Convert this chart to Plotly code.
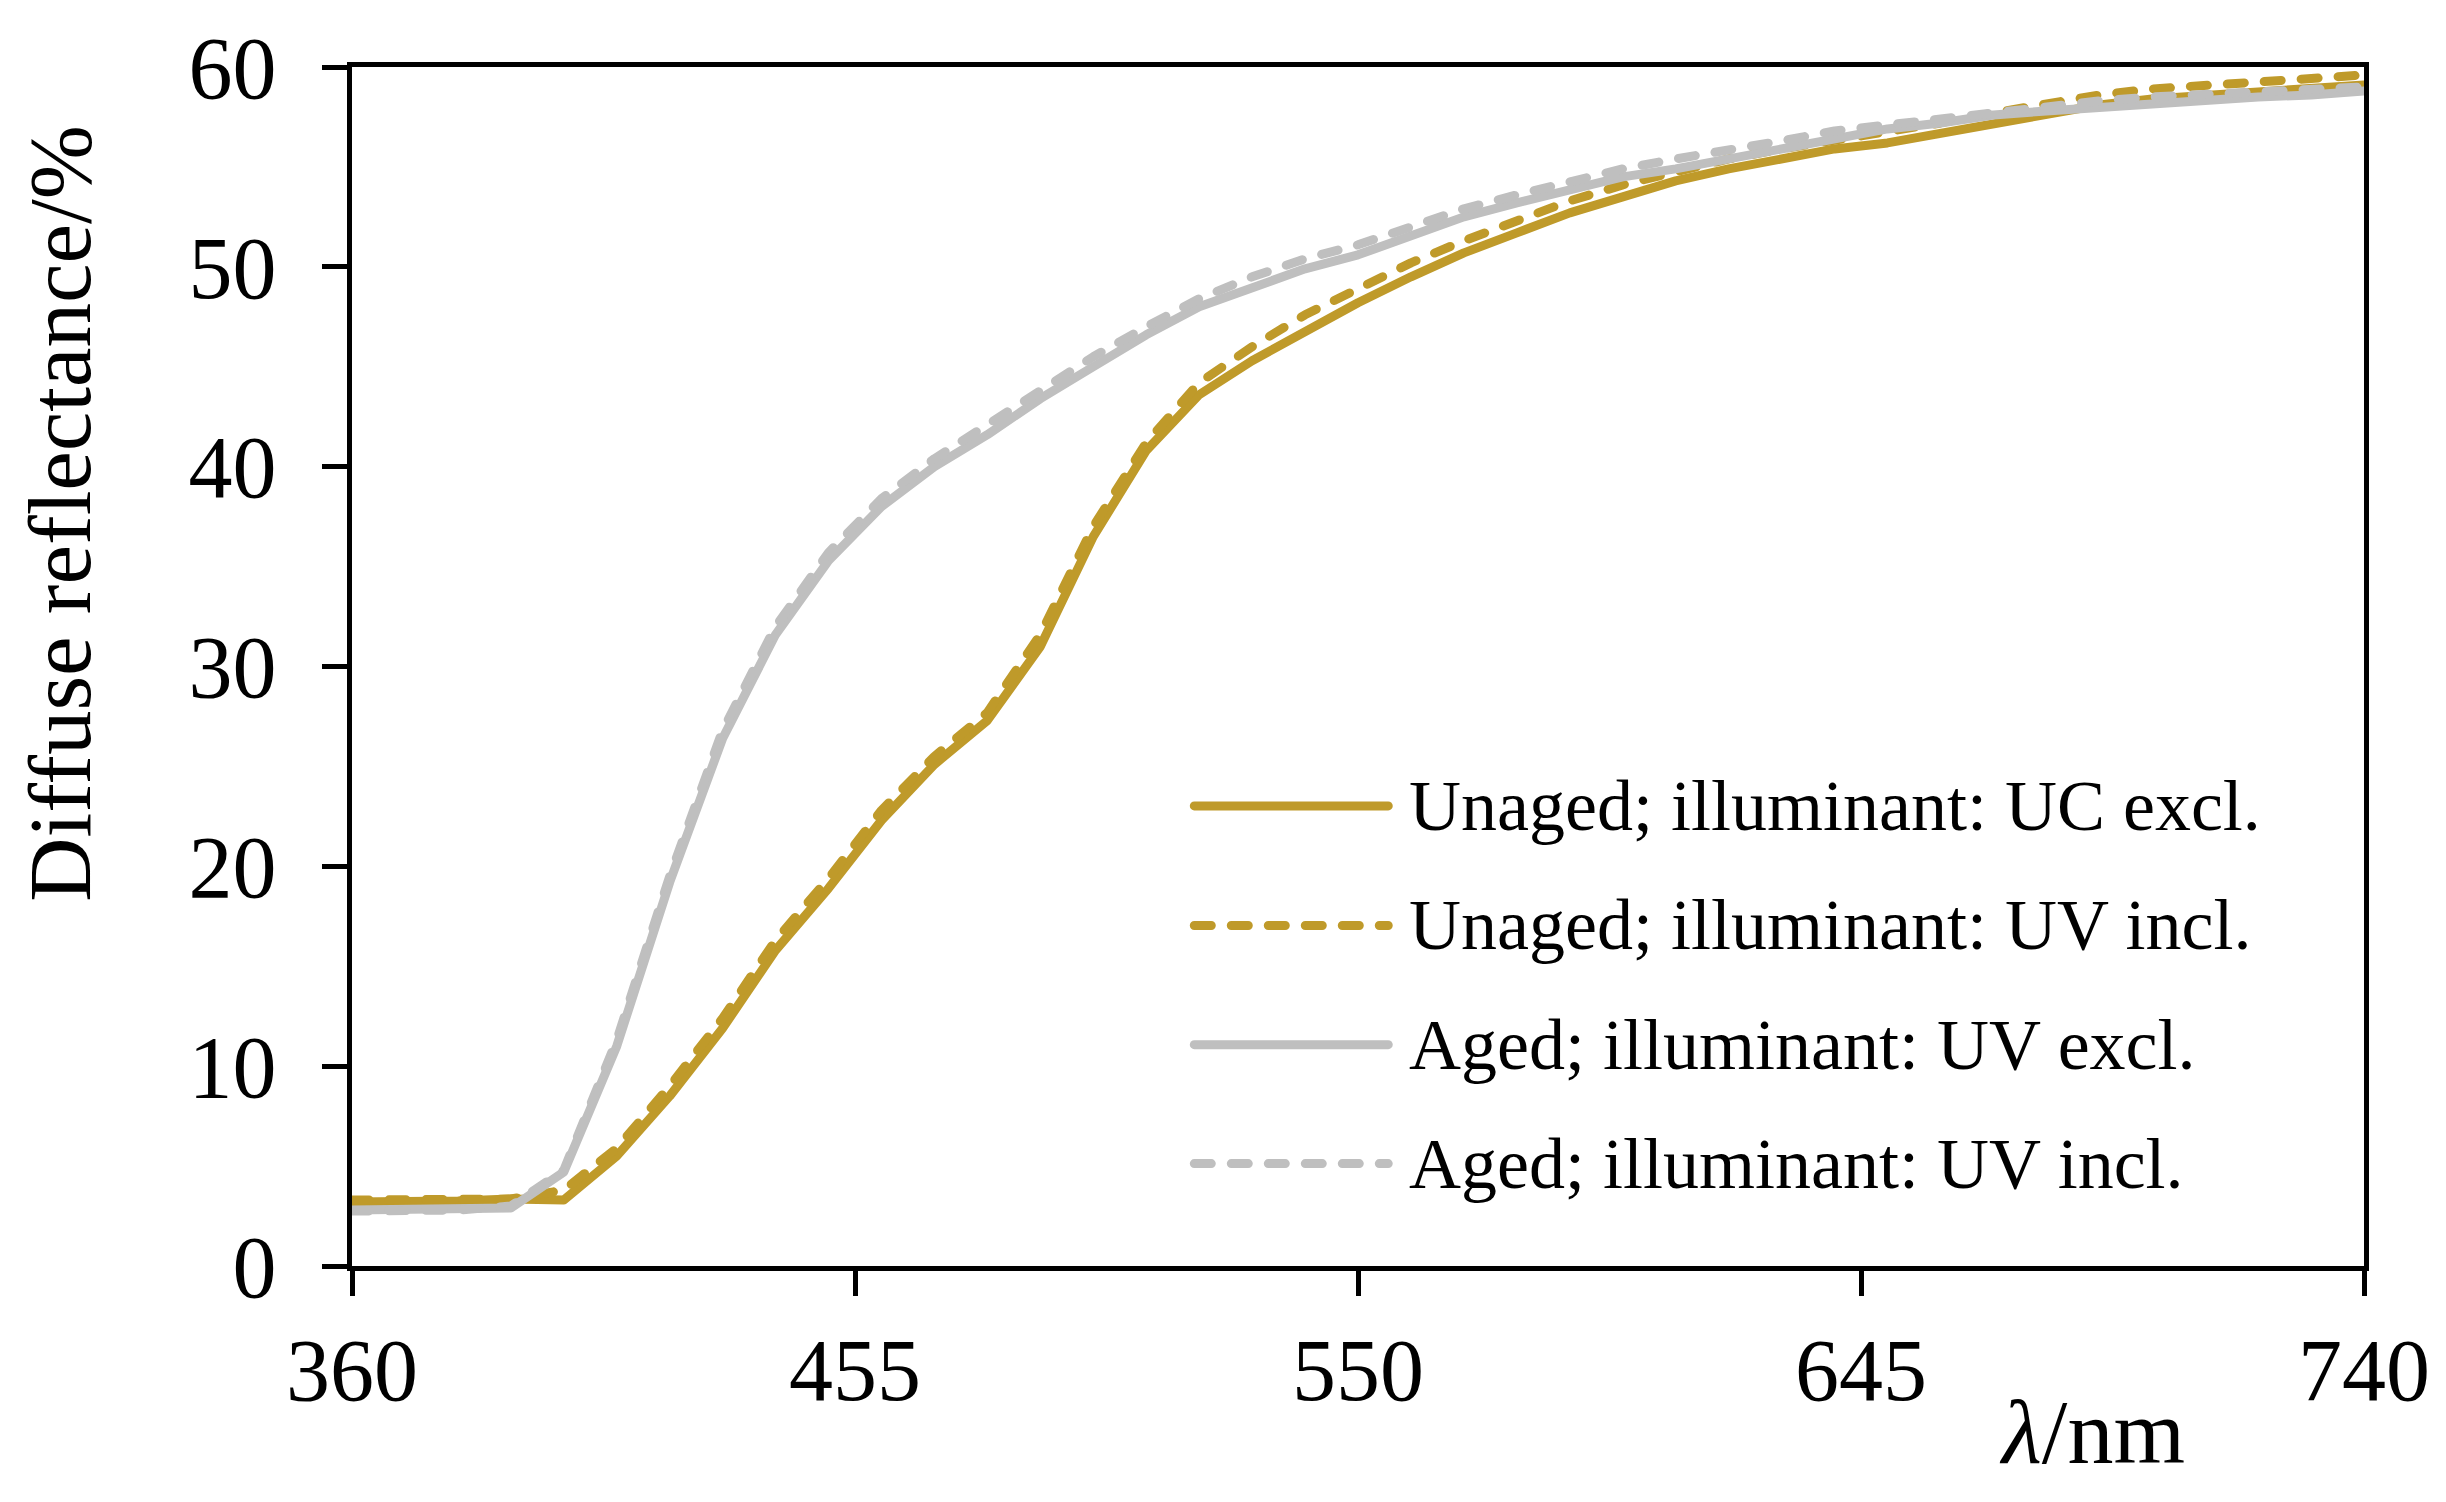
import plotly.graph_objects as go

# ---------------- data ----------------
wavelength = [360, 370, 380, 390, 400, 410, 420, 430, 440, 450, 460, 470, 480, 490,
              500, 510, 520, 530, 540, 550, 560, 570, 580, 590, 600, 610, 620, 630,
              640, 650, 660, 670, 680, 690, 700, 710, 720, 730, 740]

unaged_uv_excl = [3.2, 3.2, 3.25, 3.35, 3.3, 5.5, 8.5, 11.9, 15.8, 18.9, 22.3, 25.1, 27.3, 31.0,
                  36.5, 40.8, 43.6, 45.3, 46.8, 48.2, 49.5, 50.7, 51.7, 52.7, 53.5, 54.3, 54.9, 55.4,
                  55.9, 56.2, 56.7, 57.2, 57.7, 58.1, 58.4, 58.6, 58.8, 59.0, 59.1]

unaged_uv_incl = [3.3, 3.3, 3.3, 3.35, 3.8, 5.9, 9.0, 12.4, 16.3, 19.4, 22.8, 25.5, 27.7, 31.6,
                  37.0, 41.2, 44.2, 46.0, 47.6, 48.9, 50.2, 51.3, 52.3, 53.3, 54.1, 54.8, 55.4, 55.9,
                  56.3, 56.7, 57.2, 57.7, 58.2, 58.6, 58.9, 59.1, 59.3, 59.5, 59.6]

aged_uv_excl = [2.8, 2.8, 2.8, 2.9, 4.7, 11.0, 19.2, 26.4, 31.6, 35.3, 38.0, 40.0, 41.6, 43.4,
                45.0, 46.6, 48.0, 49.0, 49.9, 50.6, 51.6, 52.5, 53.2, 53.8, 54.5, 54.9, 55.4, 56.0,
                56.5, 56.9, 57.2, 57.6, 57.8, 58.0, 58.2, 58.3, 58.5, 58.6, 58.8]

aged_uv_incl = [2.75, 2.75, 2.8, 3.0, 4.8, 11.3, 19.5, 26.8, 32.0, 35.7, 38.4, 40.4, 42.1, 43.8,
                45.5, 47.0, 48.4, 49.5, 50.4, 51.1, 52.0, 52.9, 53.6, 54.3, 54.9, 55.4, 55.8, 56.3,
                56.8, 57.1, 57.5, 57.8, 58.1, 58.3, 58.5, 58.6, 58.8, 58.9, 59.0]

series_names = ["Unaged; illuminant: UC excl.", "Unaged; illuminant: UV incl.",
                "Aged; illuminant: UV excl.", "Aged; illuminant: UV incl."]

x_ticks = [360, 455, 550, 645, 740]
y_ticks = [0, 10, 20, 30, 40, 50, 60]

# ---------------- styling ----------------
GOLD = "#BF9A2A"
GRAY = "#BFBFBF"
LW = 9
DASH = "17px,20px"
FONT = "Liberation Serif, Times New Roman, serif"

W, H = 2446, 1502
ML, MR, MT, MB = 351.5, 82, 66.5, 235.5
PW = W - ML - MR
PH = H - MT - MB


def px(X):
    return (X - ML) / PW


def py(Y):
    return (H - MB - Y) / PH


styles = [(GOLD, "solid"), (GOLD, DASH), (GRAY, "solid"), (GRAY, DASH)]
values = [unaged_uv_excl, unaged_uv_incl, aged_uv_excl, aged_uv_incl]

fig = go.Figure()
for name, vals, (col, dash) in zip(series_names, values, styles):
    fig.add_trace(go.Scatter(x=wavelength, y=vals, mode="lines", name=name,
                             line=dict(color=col, width=LW, dash=dash),
                             showlegend=False, hoverinfo="skip"))

axis_common = dict(showline=True, linecolor="black", linewidth=5, mirror=True,
                   ticks="outside", ticklen=25, tickwidth=5, tickcolor="black",
                   showgrid=False, zeroline=False,
                   tickfont=dict(family=FONT, size=88, color="black"))

fig.update_xaxes(range=[360, 740], tickmode="array", tickvals=x_ticks,
                 ticktext=[str(v) for v in x_ticks], ticklabelstandoff=-2, **axis_common)
fig.update_yaxes(range=[0, 60], tickmode="array", tickvals=y_ticks,
                 ticktext=[str(v) for v in y_ticks], ticklabelstandoff=28, **axis_common)

# custom legend (long sample lines like the reference)
leg_Y = [806, 925.7, 1045, 1164]
shapes = []
annotations = []
for name, (col, dash), Y in zip(series_names, styles, leg_Y):
    shapes.append(dict(type="line", xref="paper", yref="paper", x0=px(1194), x1=px(1388),
                       y0=py(Y), y1=py(Y), line=dict(color=col, width=LW, dash=dash)))
    annotations.append(dict(text=name, xref="paper", yref="paper", x=px(1407), y=py(Y),
                            xanchor="left", yanchor="middle", showarrow=False,
                            font=dict(family=FONT, size=72, color="black")))

annotations.append(dict(text="Diffuse reflectance/%", xref="paper", yref="paper",
                        x=px(60), y=py(513), textangle=-90, xanchor="center", yanchor="middle",
                        showarrow=False, font=dict(family=FONT, size=89, color="black")))
annotations.append(dict(text="<i>λ</i>/nm", xref="paper", yref="paper",
                        x=px(2092), y=py(1433), xanchor="center", yanchor="middle",
                        showarrow=False, font=dict(family=FONT, size=92, color="black")))

fig.update_layout(width=W, height=H, margin=dict(l=ML, r=MR, t=MT, b=MB, pad=0),
                  paper_bgcolor="white", plot_bgcolor="white",
                  shapes=shapes, annotations=annotations, showlegend=False)

js = """
document.body.style.margin = '0';
document.body.style.padding = '0';
var gd = document.getElementById('{plot_id}');
function rc(){
  gd.querySelectorAll('.scatterlayer path.js-line, .shapelayer path').forEach(function(p){
    p.style.strokeLinecap='round'; p.style.strokeLinejoin='round';
  });
}
rc();
gd.on('plotly_afterplot', rc);
"""

fig.write_html("out.html", post_script=js, config={"displayModeBar": False})
